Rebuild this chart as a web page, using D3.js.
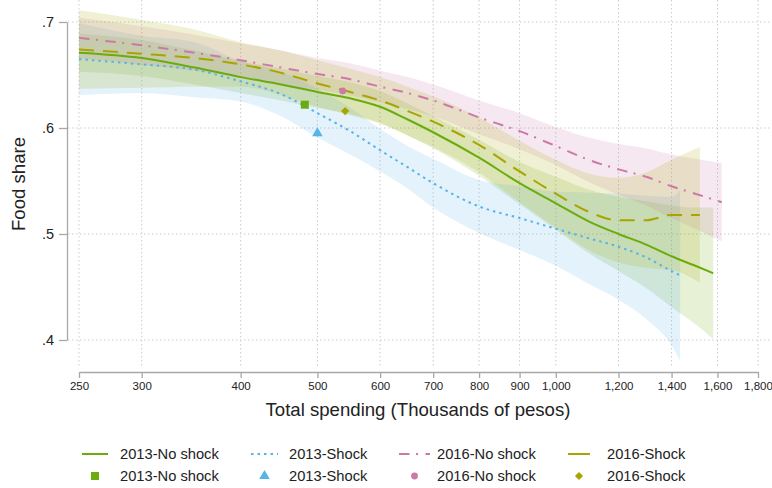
<!DOCTYPE html>
<html lang="en">
<head>
<meta charset="UTF-8">
<title>Food share by total spending</title>
<script src="https://d3js.org/d3.v7.min.js"></script>
<style>
  body { margin: 0; background: #fff; font-family: "Liberation Sans", Arial, sans-serif; }
  svg { display: block; }
  .grid line { stroke: #cccccc; stroke-width: 1; stroke-dasharray: 1.5,2.5; }
  .axis path, .axis line { stroke: #a8a8a8; stroke-width: 1.3; }
  .axis text { fill: #222; font-family: "Liberation Sans", Arial, sans-serif; }
</style>
</head>
<body>
<svg width="772" height="488"></svg>
<script>
// tick values
const xTicks = [250, 300, 400, 500, 600, 700, 800, 900, 1000, 1200, 1400, 1600, 1800];
const yTicks = [0.4, 0.5, 0.6, 0.7];

// 2013 - no shock: fitted food share and 95% band
const x13n   = [250, 300, 350, 400, 450, 500, 550, 600, 650, 700, 800, 900, 1000, 1100, 1200, 1300, 1400, 1500, 1580];
const fit13n = [0.671, 0.666, 0.657, 0.648, 0.641, 0.634, 0.628, 0.620, 0.608, 0.596, 0.572, 0.548, 0.529, 0.512, 0.500, 0.490, 0.479, 0.470, 0.463];
const lo13n  = [0.653, 0.649, 0.641, 0.633, 0.626, 0.619, 0.613, 0.605, 0.593, 0.581, 0.555, 0.528, 0.504, 0.482, 0.465, 0.449, 0.431, 0.415, 0.401];
const hi13n  = [0.689, 0.683, 0.673, 0.663, 0.656, 0.649, 0.643, 0.635, 0.623, 0.611, 0.589, 0.568, 0.554, 0.542, 0.535, 0.531, 0.527, 0.525, 0.525];

// 2013 - shock
const x13s   = [250, 300, 350, 400, 450, 500, 550, 600, 650, 700, 800, 900, 1000, 1100, 1200, 1300, 1400, 1435];
const fit13s = [0.665, 0.660, 0.655, 0.644, 0.632, 0.614, 0.597, 0.579, 0.563, 0.548, 0.526, 0.515, 0.505, 0.496, 0.488, 0.478, 0.465, 0.461];
const lo13s  = [0.631, 0.633, 0.629, 0.625, 0.611, 0.591, 0.575, 0.559, 0.543, 0.525, 0.501, 0.485, 0.470, 0.453, 0.438, 0.420, 0.395, 0.381];
const hi13s  = [0.699, 0.687, 0.681, 0.663, 0.653, 0.637, 0.619, 0.599, 0.583, 0.571, 0.551, 0.545, 0.540, 0.539, 0.538, 0.536, 0.535, 0.541];

// 2016 - no shock
const x16n   = [250, 300, 350, 400, 450, 500, 550, 600, 650, 700, 800, 900, 1000, 1100, 1200, 1300, 1400, 1500, 1620];
const fit16n = [0.685, 0.678, 0.671, 0.664, 0.657, 0.651, 0.646, 0.639, 0.633, 0.626, 0.610, 0.597, 0.583, 0.570, 0.561, 0.554, 0.545, 0.538, 0.530];
const lo16n  = [0.666, 0.660, 0.654, 0.648, 0.641, 0.636, 0.631, 0.624, 0.618, 0.611, 0.594, 0.580, 0.565, 0.549, 0.537, 0.527, 0.515, 0.505, 0.493];
const hi16n  = [0.704, 0.696, 0.688, 0.680, 0.673, 0.666, 0.661, 0.654, 0.648, 0.641, 0.626, 0.614, 0.601, 0.591, 0.585, 0.581, 0.575, 0.571, 0.567];

// 2016 - shock
const x16s   = [250, 300, 350, 400, 450, 500, 550, 600, 650, 700, 800, 900, 1000, 1100, 1200, 1300, 1400, 1520];
const fit16s = [0.674, 0.670, 0.666, 0.660, 0.652, 0.642, 0.634, 0.626, 0.616, 0.606, 0.584, 0.559, 0.538, 0.521, 0.513, 0.513, 0.518, 0.518];
const lo16s  = [0.637, 0.638, 0.639, 0.639, 0.631, 0.620, 0.612, 0.604, 0.593, 0.582, 0.558, 0.530, 0.506, 0.485, 0.473, 0.468, 0.466, 0.454];
const hi16s  = [0.711, 0.702, 0.693, 0.681, 0.673, 0.664, 0.656, 0.648, 0.639, 0.630, 0.610, 0.588, 0.570, 0.557, 0.553, 0.558, 0.570, 0.582];

// group means (markers)
const meanX = [482, 500, 538, 542];
const meanY = [0.622, 0.595, 0.635, 0.616];

const labels = ["2013-No shock", "2013-Shock", "2016-No shock", "2016-Shock"];
const colors = ["#6aac0e", "#56b4e9", "#cc79a7", "#a9a400"];
const dashes = [null, "2.5,4", "10.5,6.5,2,7.5", "15,9"];

const series = [
    {x: x13n, fit: fit13n, lo: lo13n, hi: hi13n},
    {x: x13s, fit: fit13s, lo: lo13s, hi: hi13s},
    {x: x16n, fit: fit16n, lo: lo16n, hi: hi16n},
    {x: x16s, fit: fit16s, lo: lo16s, hi: hi16s}
];

const svg = d3.select("svg");

const x = d3.scaleLog().domain([250, 1800]).range([79, 758]);
const y = d3.scaleLinear().domain([0.4, 0.7]).range([340, 22]);

// grid
const grid = svg.append("g").attr("class", "grid");
grid.selectAll(".v").data(xTicks).enter().append("line")
    .attr("x1", d => x(d)).attr("x2", d => x(d))
    .attr("y1", 0).attr("y2", 368);
grid.selectAll(".h").data(yTicks).enter().append("line")
    .attr("x1", 68).attr("x2", 770)
    .attr("y1", d => y(d)).attr("y2", d => y(d));

// confidence bands
const area = d3.area()
    .x(d => x(d.x)).y0(d => y(d.lo)).y1(d => y(d.hi))
    .curve(d3.curveMonotoneX);
const line = d3.line()
    .x(d => x(d.x)).y(d => y(d.fit))
    .curve(d3.curveMonotoneX);

function rows(s) {
    return s.x.map((v, i) => ({x: v, fit: s.fit[i], lo: s.lo[i], hi: s.hi[i]}));
}

series.forEach((s, i) => {
    svg.append("path")
       .datum(rows(s))
       .attr("d", area)
       .attr("fill", colors[i])
       .attr("fill-opacity", 0.17);
});

series.forEach((s, i) => {
    svg.append("path")
       .datum(rows(s))
       .attr("d", line)
       .attr("fill", "none")
       .attr("stroke", colors[i])
       .attr("stroke-width", 2)
       .attr("stroke-dasharray", dashes[i]);
});

// marker shapes
const diamond = {
    draw(ctx, size) {
        const r = Math.sqrt(size / 2);
        ctx.moveTo(0, -r); ctx.lineTo(r, 0); ctx.lineTo(0, r); ctx.lineTo(-r, 0); ctx.closePath();
    }
};
const shapes = [
    d3.symbol(d3.symbolSquare, 64),
    d3.symbol(d3.symbolTriangle, 48),
    d3.symbol(d3.symbolCircle, 36),
    d3.symbol(diamond, 34)
];

meanX.forEach((v, i) => {
    svg.append("path")
       .attr("d", shapes[i]())
       .attr("transform", `translate(${x(v)},${y(meanY[i])})`)
       .attr("fill", colors[i]);
});

// axes
svg.append("g")
   .attr("class", "axis")
   .attr("transform", "translate(0,372)")
   .call(d3.axisBottom(x).tickValues(xTicks).tickFormat(d3.format(",")).tickSizeInner(6).tickSizeOuter(0).tickPadding(4))
   .selectAll("text").style("font-size", "11.5px");

svg.append("g")
   .attr("class", "axis")
   .attr("transform", "translate(67,0)")
   .call(d3.axisLeft(y).tickValues(yTicks).tickFormat(d => d3.format(".1f")(d).replace(/^0/, "")).tickSizeInner(8).tickSizeOuter(0).tickPadding(5))
   .selectAll("text").style("font-size", "14.5px");

svg.append("text")
   .attr("x", 418).attr("y", 416)
   .attr("text-anchor", "middle")
   .style("font-size", "18.6px").attr("fill", "#222")
   .text("Total spending (Thousands of pesos)");

svg.append("text")
   .attr("transform", "translate(25,184) rotate(-90)")
   .attr("text-anchor", "middle")
   .style("font-size", "18.6px").attr("fill", "#222")
   .text("Food share");

// legend
const legLine = [[82, 108], [251, 278], [399, 430], [568, 590]];
const legText = [120, 289, 437, 607];
const legend = svg.append("g");
labels.forEach((lab, i) => {
    legend.append("line")
        .attr("x1", legLine[i][0]).attr("x2", legLine[i][1])
        .attr("y1", 454).attr("y2", 454)
        .attr("stroke", colors[i]).attr("stroke-width", 2)
        .attr("stroke-dasharray", i === 3 ? null : dashes[i]);
    legend.append("text")
        .attr("x", legText[i]).attr("y", 454)
        .attr("dy", "0.36em")
        .style("font-size", "14.7px").attr("fill", "#222")
        .text(lab);
    legend.append("path")
        .attr("d", shapes[i]())
        .attr("transform", `translate(${(legLine[i][0] + legLine[i][1]) / 2},476)`)
        .attr("fill", colors[i]);
    legend.append("text")
        .attr("x", legText[i]).attr("y", 476)
        .attr("dy", "0.36em")
        .style("font-size", "14.7px").attr("fill", "#222")
        .text(lab);
});
</script>
</body>
</html>
